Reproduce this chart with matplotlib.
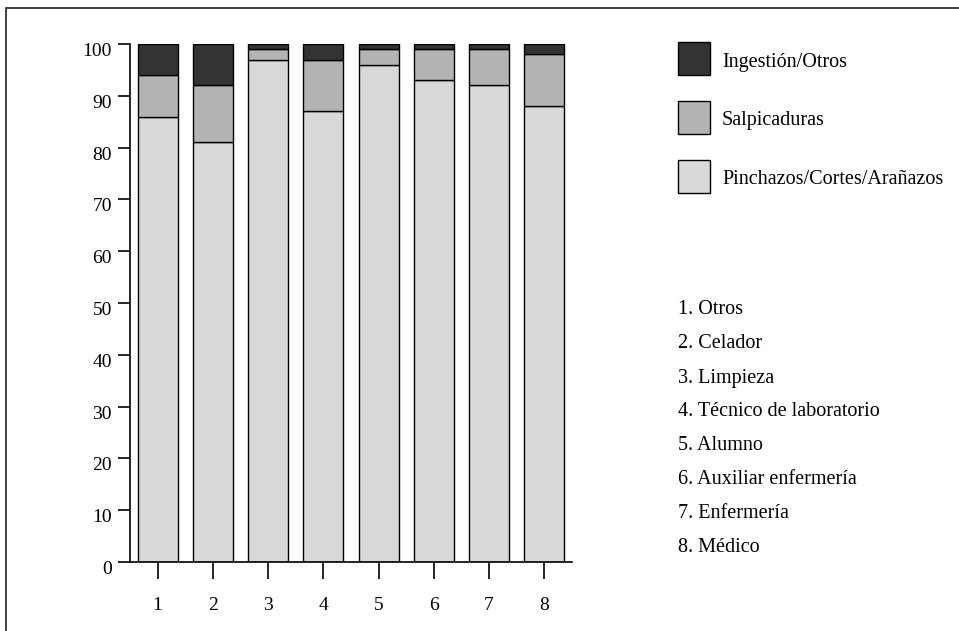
import numpy as np
import matplotlib.pyplot as plt
import matplotlib.transforms as mtransforms
from matplotlib.patches import Rectangle

plt.rcParams['font.family'] = ['Liberation Serif', 'DejaVu Serif']

# Data (percent per professional category)
categorias = ["1", "2", "3", "4", "5", "6", "7", "8"]
pinchazos = [86, 81, 97, 87, 96, 93, 92, 88]
salpicaduras = [8, 11, 2, 10, 3, 6, 7, 10]
ingestion = [6, 8, 1, 3, 1, 1, 1, 2]
series_labels = ["Ingestión/Otros", "Salpicaduras", "Pinchazos/Cortes/Arañazos"]
profesiones = ["1. Otros", "2. Celador", "3. Limpieza", "4. Técnico de laboratorio",
               "5. Alumno", "6. Auxiliar enfermería", "7. Enfermería", "8. Médico"]

c_light, c_mid, c_dark = "#d9d9d9", "#b3b3b3", "#333333"

W, H = 959, 631
fig = plt.figure(figsize=(W / 100, H / 100), dpi=100)

# outer frame
fig.add_artist(Rectangle((6 / W, -0.1), 1.1, 1 - 8 / H + 0.1, transform=fig.transFigure,
                         fill=False, edgecolor="#222222", lw=1.2))

ax = fig.add_axes([130 / W, (H - 562) / H, (572 - 130) / W, (562 - 44) / H])

x = np.arange(1, len(categorias) + 1)
p = np.array(pinchazos)
s = np.array(salpicaduras)
g = np.array(ingestion)
w = 0.72
ax.bar(x, p, w, color=c_light, edgecolor="black", lw=1)
ax.bar(x, s, w, bottom=p, color=c_mid, edgecolor="black", lw=1)
ax.bar(x, g, w, bottom=p + s, color=c_dark, edgecolor="black", lw=1)

ax.set_xlim(0.5, 8.5)
ax.set_ylim(0, 100)
ax.set_yticks(range(0, 101, 10))
ax.set_xticks(x)
ax.set_xticklabels(categorias)
ax.spines['top'].set_visible(False)
ax.spines['right'].set_visible(False)
ax.spines['left'].set_linewidth(1.2)
ax.spines['bottom'].set_linewidth(1.2)
ax.tick_params(axis='y', direction='out', length=9, width=1.2, pad=4, labelsize=14)
ax.tick_params(axis='x', direction='out', length=12, width=1.2, pad=13, labelsize=14)

# y labels sit a little below their ticks in the original
shift = mtransforms.ScaledTranslation(0, -4 / 72, fig.dpi_scale_trans)
for lbl in ax.get_yticklabels():
    lbl.set_transform(lbl.get_transform() + shift)

# legend boxes
fcols = [c_dark, c_mid, c_light]
ycent = [59, 118, 177]
for lab, col, yc in zip(series_labels, fcols, ycent):
    fig.add_artist(Rectangle((678 / W, (H - yc - 16) / H), 32 / W, 33 / H,
                             transform=fig.transFigure, facecolor=col,
                             edgecolor="black", lw=1))
    fig.text(722 / W, (H - yc - 3) / H, lab, fontsize=14.5, va='center', ha='left')

# category list
for i, txt in enumerate(profesiones):
    fig.text(678 / W, (H - 310 - i * 34) / H, txt, fontsize=14.5, va='center', ha='left')

fig.savefig("out.png", dpi=100)
